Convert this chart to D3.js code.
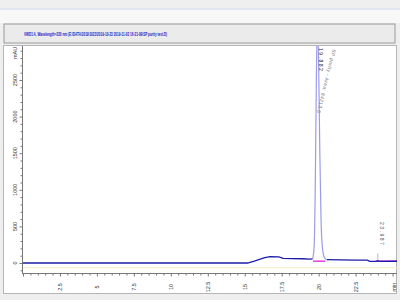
<!DOCTYPE html>
<html>
<head>
<meta charset="utf-8">
<script src="https://cdn.jsdelivr.net/npm/d3@7"></script>
<style>
  body { margin: 0; background: #efefef; }
  svg { display: block; font-family: "Liberation Sans", Arial, sans-serif; }
</style>
</head>
<body>
<div id="chart"></div>
<script>
// chromatogram trace, time in min, signal in mAU
var baseTime = [0, 15.2, 15.7, 16.3, 16.7, 17.3, 17.6, 18.2, 18.9, 19.4, 19.6];
var baseSignal = [0, 0, 30, 70, 86, 84, 62, 60, 58, 52, 55];
var peakTime = [19.6, 19.7, 19.78, 19.85, 19.92, 20.0, 20.08, 20.16, 20.26, 20.4, 20.55];
var peakSignal = [55, 250, 1200, 2600, 3300, 2700, 1500, 600, 200, 70, 45];
var tailTime = [20.55, 21.5, 22.5, 23.3, 23.45, 23.9, 24.0, 24.1, 25.4];
var tailSignal = [45, 42, 40, 40, 22, 22, 30, 22, 24];

// integration baselines
var intBase1 = [[19.62, 25], [20.45, 25]];
var intBase2 = [[23.85, 26], [25.4, 26]];

// peak labels
var peakLabels = [
  { t: 19.93, text: "19.882" },
  { t: 24.0, text: "23.987" }
];

var yTicks = [0, 500, 1000, 1500, 2000, 2500];
var xTicks = [2.5, 5, 7.5, 10, 12.5, 15, 17.5, 20, 22.5];

var width = 400, height = 300;
var svg = d3.select("#chart").append("svg")
    .attr("width", width).attr("height", height);

// window chrome
svg.append("rect").attr("x", 0).attr("y", 0).attr("width", width).attr("height", height).attr("fill", "#efefef");
svg.append("rect").attr("x", 0).attr("y", 8).attr("width", width).attr("height", 2).attr("fill", "#dfe6f2");
svg.append("rect").attr("x", 0).attr("y", 10).attr("width", width).attr("height", 13).attr("fill", "#f8f8f8");
svg.append("rect").attr("x", 4).attr("y", 24).attr("width", 391).attr("height", 19)
    .attr("fill", "#ebebeb").attr("stroke", "#9a9a9a").attr("stroke-width", 1);
svg.append("text").attr("x", 24).attr("y", 35.5)
    .attr("font-size", 5.8).attr("fill", "#2020c8").attr("font-weight", "bold")
    .attr("textLength", 143).attr("lengthAdjust", "spacingAndGlyphs")
    .text("VWD1 A, Wavelength=220 nm (E:\\DATA\\2019\\1023\\2019-10-23 2019-11-02 16-21-09\\SP purity test.D)");

// plot panel
svg.append("rect").attr("x", 3.5).attr("y", 45.5).attr("width", 393).attr("height", 248)
    .attr("fill", "#ffffff").attr("stroke", "#b5b5b5");

var x = d3.scaleLinear().domain([0, 25.3]).range([23, 397]);
var y = d3.scaleLinear().domain([0, 2500]).range([263, 80]);

var clip = svg.append("defs").append("clipPath").attr("id", "plotclip")
    .append("rect").attr("x", 22).attr("y", 46).attr("width", 375).attr("height", 228);

// y axis
var yAxis = d3.axisLeft(y).tickValues(d3.range(-100, 3001, 100)).tickSize(2).tickFormat("");
var gy = svg.append("g").attr("transform", "translate(22.5,0)").call(yAxis);
gy.select(".domain").remove();
gy.selectAll(".tick").filter(function (d) { return y(d) < 47 || y(d) > 273; }).remove();
gy.selectAll(".tick line").attr("stroke", "#777")
    .attr("x2", function (d) { return d % 500 === 0 ? -3 : -2; });
svg.append("line").attr("x1", 22.5).attr("x2", 22.5).attr("y1", 46).attr("y2", 274).attr("stroke", "#777");
svg.selectAll(".ylab").data(yTicks).enter().append("text")
    .attr("transform", function (d) { return "translate(17," + y(d) + ") rotate(-90)"; })
    .attr("text-anchor", "middle").attr("font-size", 5.5).attr("fill", "#333")
    .text(function (d) { return d; });
svg.append("text").attr("transform", "translate(17,53) rotate(-90)")
    .attr("text-anchor", "middle").attr("font-size", 5.5).attr("fill", "#333").text("mAU");

// x axis
var xAxis = d3.axisBottom(x).tickValues(d3.range(0, 25.3, 0.5)).tickSize(2).tickFormat("");
var gx = svg.append("g").attr("transform", "translate(0,273.5)").call(xAxis);
gx.select(".domain").remove();
gx.selectAll(".tick line").attr("stroke", "#777")
    .attr("y2", function (d) { return Math.abs(d % 2.5) < 1e-6 ? 3 : 2; });
svg.append("line").attr("x1", 22).attr("x2", 397).attr("y1", 273.5).attr("y2", 273.5).attr("stroke", "#777");
svg.selectAll(".xlab").data(xTicks).enter().append("text")
    .attr("transform", function (d) { return "translate(" + (x(d) + 1.9) + ",287) rotate(-90)"; })
    .attr("text-anchor", "middle").attr("font-size", 5.5).attr("fill", "#333")
    .text(function (d) { return d; });
svg.append("text").attr("transform", "translate(395.5,287) rotate(-90)")
    .attr("text-anchor", "middle").attr("font-size", 5.5).attr("fill", "#333").text("min");

var plot = svg.append("g").attr("clip-path", "url(#plotclip)");

// faint second trace
plot.append("line").attr("x1", x(0)).attr("x2", x(25.3))
    .attr("y1", y(-65)).attr("y2", y(-65)).attr("stroke", "#f3edbf").attr("stroke-width", 1);

var line = d3.line().x(function (d) { return x(d[0]); }).y(function (d) { return y(d[1]); });

// integration baselines
[intBase1, intBase2].forEach(function (b) {
  plot.append("path").datum(b).attr("d", line)
      .attr("fill", "none").attr("stroke", "#e020d8").attr("stroke-width", 1.3);
});

var base = d3.zip(baseTime, baseSignal);
var peak = d3.zip(peakTime, peakSignal);
var tail = d3.zip(tailTime, tailSignal);

plot.append("path").datum(base).attr("d", line)
    .attr("fill", "none").attr("stroke", "#1c1ca8").attr("stroke-width", 1.3);
plot.append("path").datum(tail).attr("d", line)
    .attr("fill", "none").attr("stroke", "#1c1ca8").attr("stroke-width", 1.3);
plot.append("path").datum(peak).attr("d", line.curve(d3.curveMonotoneX))
    .attr("fill", "none").attr("stroke", "#9c9ce6").attr("stroke-width", 1.2);

// small peak tick
plot.append("line").attr("x1", x(24.0)).attr("x2", x(24.0))
    .attr("y1", y(30) - 1).attr("y2", y(130)).attr("stroke", "#888").attr("stroke-width", 0.6);

// labels
svg.append("text")
    .attr("transform", "translate(" + (x(peakLabels[0].t) + 1.5) + ",48) rotate(90)")
    .attr("font-size", 5).attr("fill", "#223").attr("letter-spacing", 1.5)
    .text(peakLabels[0].text);
svg.append("text")
    .attr("transform", "translate(" + (x(peakLabels[0].t) + 15) + ",49) rotate(104)")
    .attr("font-size", 5).attr("fill", "#777").attr("letter-spacing", 0.4)
    .text("SP purity - Area: 84213.5");
svg.append("text")
    .attr("transform", "translate(" + (x(peakLabels[1].t) + 2) + ",222) rotate(90)")
    .attr("font-size", 5).attr("fill", "#555").attr("letter-spacing", 1.5)
    .text(peakLabels[1].text);
</script>
</body>
</html>
